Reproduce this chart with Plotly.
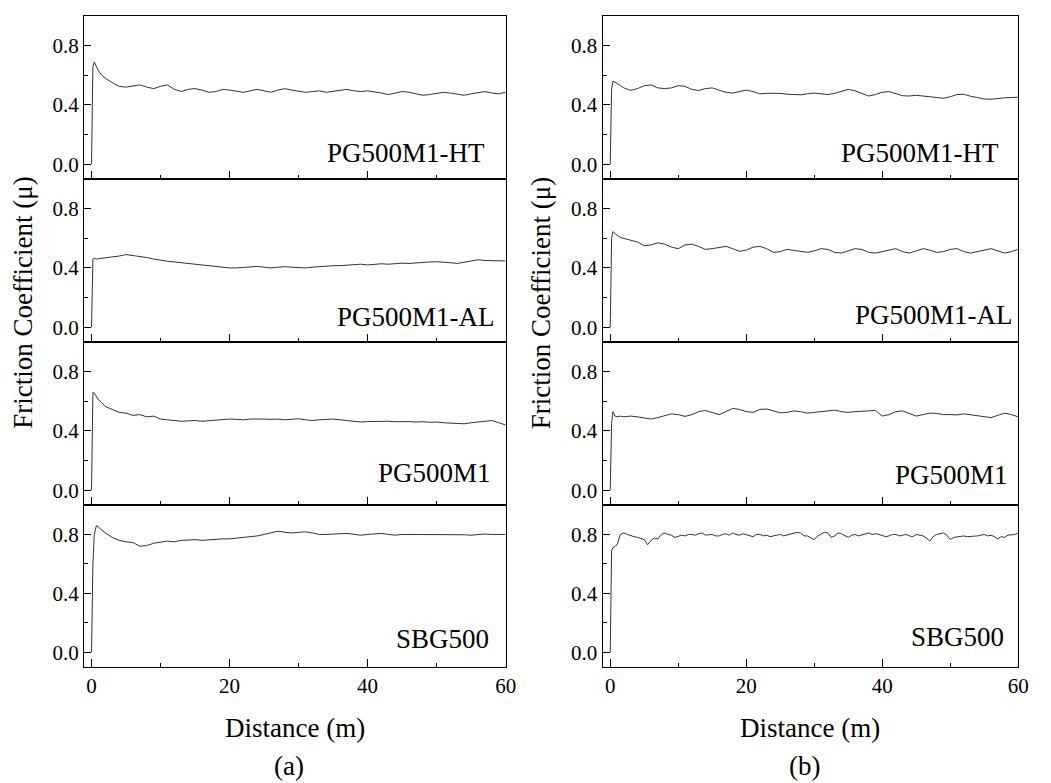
import plotly.graph_objects as go

# ---------------- data ----------------
distance = [0, 0.2, 0.4, 0.7, 1, 1.5, 2] + list(range(3, 61))
distance_fine = [0, 0.2, 0.4, 0.7, 1, 1.5] + [2 + 0.5 * i for i in range(117)]

# (a) column
a_pg500m1_ht = [0, 0.66, 0.69, 0.66, 0.63, 0.60, 0.58,
                0.55, 0.525, 0.52, 0.53, 0.535, 0.52, 0.51, 0.525, 0.535, 0.505,
                0.49, 0.505, 0.51, 0.50, 0.485, 0.49, 0.505, 0.50, 0.49, 0.485,
                0.495, 0.505, 0.495, 0.485, 0.50, 0.51, 0.50, 0.49, 0.485, 0.49,
                0.495, 0.485, 0.49, 0.50, 0.505, 0.495, 0.49, 0.495, 0.49, 0.48,
                0.47, 0.48, 0.49, 0.485, 0.475, 0.465, 0.47, 0.48, 0.485, 0.48,
                0.47, 0.465, 0.475, 0.485, 0.49, 0.48, 0.475, 0.485]
a_pg500m1_al = [0, 0.46, 0.465, 0.46, 0.462, 0.465, 0.465,
                0.47, 0.48, 0.49, 0.485, 0.48, 0.47, 0.46, 0.45, 0.445, 0.44,
                0.435, 0.43, 0.42, 0.415, 0.41, 0.405, 0.405, 0.40, 0.40, 0.403,
                0.405, 0.41, 0.405, 0.40, 0.405, 0.408, 0.405, 0.403, 0.40, 0.405,
                0.41, 0.41, 0.415, 0.415, 0.418, 0.42, 0.425, 0.42, 0.425, 0.428,
                0.425, 0.43, 0.432, 0.43, 0.435, 0.44, 0.44, 0.442, 0.44, 0.435,
                0.43, 0.44, 0.45, 0.455, 0.45, 0.45, 0.445, 0.447]
a_pg500m1 = [0, 0.66, 0.655, 0.63, 0.61, 0.59, 0.565,
             0.545, 0.525, 0.52, 0.505, 0.51, 0.495, 0.50, 0.48, 0.475, 0.47,
             0.465, 0.468, 0.47, 0.465, 0.47, 0.472, 0.475, 0.48, 0.478, 0.475,
             0.48, 0.482, 0.48, 0.478, 0.48, 0.475, 0.48, 0.482, 0.475, 0.47,
             0.475, 0.478, 0.48, 0.475, 0.47, 0.465, 0.46, 0.463, 0.465, 0.468,
             0.465, 0.462, 0.465, 0.463, 0.46, 0.462, 0.458, 0.46, 0.455, 0.452,
             0.45, 0.448, 0.455, 0.46, 0.465, 0.47, 0.455, 0.44]
a_sbg500 = [0, 0.60, 0.80, 0.86, 0.85, 0.83, 0.81,
            0.78, 0.76, 0.75, 0.745, 0.72, 0.725, 0.74, 0.745, 0.755, 0.75,
            0.76, 0.762, 0.765, 0.76, 0.765, 0.768, 0.77, 0.77, 0.775, 0.78,
            0.785, 0.79, 0.80, 0.81, 0.822, 0.815, 0.81, 0.815, 0.818, 0.81,
            0.80, 0.80, 0.80, 0.805, 0.807, 0.80, 0.795, 0.80, 0.803, 0.807,
            0.80, 0.795, 0.80, 0.80, 0.80, 0.802, 0.80, 0.80, 0.80, 0.802,
            0.80, 0.798, 0.795, 0.80, 0.803, 0.80, 0.80, 0.80]

# (b) column
b_pg500m1_ht = [0, 0.51, 0.56, 0.555, 0.545, 0.53, 0.515,
                0.498, 0.51, 0.53, 0.535, 0.515, 0.51, 0.515, 0.53, 0.525, 0.505,
                0.497, 0.51, 0.515, 0.50, 0.485, 0.48, 0.49, 0.50, 0.49, 0.475,
                0.478, 0.48, 0.478, 0.472, 0.47, 0.468, 0.475, 0.48, 0.475, 0.47,
                0.478, 0.49, 0.505, 0.495, 0.475, 0.46, 0.47, 0.485, 0.49, 0.475,
                0.462, 0.46, 0.465, 0.46, 0.455, 0.45, 0.445, 0.455, 0.47, 0.472,
                0.458, 0.45, 0.44, 0.438, 0.445, 0.448, 0.45, 0.452]
b_pg500m1_al = [0, 0.60, 0.645, 0.63, 0.62, 0.605, 0.60,
                0.59, 0.575, 0.55, 0.555, 0.57, 0.56, 0.54, 0.53, 0.555, 0.56,
                0.545, 0.525, 0.53, 0.54, 0.545, 0.53, 0.512, 0.52, 0.54, 0.545,
                0.53, 0.505, 0.51, 0.525, 0.52, 0.51, 0.505, 0.515, 0.53, 0.525,
                0.505, 0.50, 0.515, 0.53, 0.525, 0.505, 0.50, 0.51, 0.525, 0.53,
                0.51, 0.50, 0.515, 0.53, 0.52, 0.505, 0.51, 0.525, 0.53, 0.51,
                0.50, 0.51, 0.525, 0.53, 0.515, 0.50, 0.51, 0.525]
b_pg500m1 = [0, 0.45, 0.53, 0.50, 0.495, 0.50, 0.495,
             0.50, 0.495, 0.485, 0.48, 0.49, 0.505, 0.515, 0.51, 0.498, 0.51,
             0.53, 0.538, 0.525, 0.51, 0.53, 0.552, 0.545, 0.53, 0.525, 0.545,
             0.548, 0.535, 0.522, 0.525, 0.535, 0.53, 0.52, 0.525, 0.53, 0.535,
             0.54, 0.53, 0.525, 0.53, 0.535, 0.535, 0.538, 0.50, 0.51, 0.53,
             0.535, 0.52, 0.50, 0.51, 0.52, 0.518, 0.51, 0.51, 0.508, 0.515,
             0.51, 0.505, 0.50, 0.49, 0.505, 0.52, 0.51, 0.495]
# SBG500 (b) is noisier: read at 0.5 m steps
b_sbg500 = [0, 0.69, 0.71, 0.72, 0.73, 0.80,
            0.81, 0.80, 0.79, 0.785, 0.78, 0.77, 0.765, 0.73,       # 2 - 5.5
            0.76, 0.775, 0.77, 0.80, 0.81, 0.80, 0.795, 0.78,       # 6 - 9.5
            0.785, 0.795, 0.79, 0.80, 0.80, 0.795, 0.805, 0.81,     # 10 - 13.5
            0.795, 0.80, 0.80, 0.79, 0.79, 0.80, 0.805, 0.795,      # 14 - 17.5
            0.81, 0.80, 0.795, 0.805, 0.80, 0.79, 0.785, 0.80,      # 18 - 21.5
            0.80, 0.79, 0.795, 0.785, 0.79, 0.80, 0.80, 0.79,       # 22 - 25.5
            0.795, 0.80, 0.805, 0.815, 0.81, 0.79, 0.79, 0.775,     # 26 - 29.5
            0.765, 0.79, 0.80, 0.815, 0.81, 0.78, 0.79, 0.81,       # 30 - 33.5
            0.805, 0.79, 0.78, 0.795, 0.80, 0.79, 0.795, 0.805,     # 34 - 37.5
            0.81, 0.80, 0.805, 0.80, 0.795, 0.785, 0.79, 0.80,      # 38 - 41.5
            0.80, 0.79, 0.795, 0.80, 0.79, 0.785, 0.80, 0.795,      # 42 - 45.5
            0.79, 0.775, 0.755, 0.785, 0.80, 0.805, 0.81, 0.795,    # 46 - 49.5
            0.765, 0.78, 0.785, 0.79, 0.79, 0.785, 0.785, 0.79,     # 50 - 53.5
            0.79, 0.795, 0.80, 0.79, 0.795, 0.785, 0.77, 0.785,     # 54 - 57.5
            0.78, 0.795, 0.795, 0.80, 0.81]                          # 58 - 60

sample_labels = ["PG500M1-HT", "PG500M1-AL", "PG500M1", "SBG500"]
x_tick_vals = [0, 20, 40, 60]
y_tick_vals = [0.0, 0.4, 0.8]

columns = [
    [a_pg500m1_ht, a_pg500m1_al, a_pg500m1, a_sbg500],
    [b_pg500m1_ht, b_pg500m1_al, b_pg500m1, b_sbg500],
]
column_x = [
    [distance, distance, distance, distance],
    [distance, distance, distance, distance_fine],
]

# ---------------- layout geometry (pixels) ----------------
W, H = 1051, 783
col_px = [(85, 511), (609, 1029)]
x_ranges = [[-1.075, 60], [-1.12, 60]]
row_px = [16, 179, 342, 505, 667]
label_right = [[492, 502, 498, 496], [1012, 1026, 1021, 1017]]
label_capbottom = [[163, 327, 483, 649], [163, 325, 485, 647]]

FONT = "Liberation Serif, Times New Roman, serif"

fig = go.Figure()
layout = dict(
    width=W, height=H,
    margin=dict(l=0, r=0, t=0, b=0),
    paper_bgcolor="white", plot_bgcolor="white",
    showlegend=False,
    font=dict(family=FONT, color="black", size=21),
)
annotations = []

idx = 0
for c in range(2):
    for r in range(4):
        idx += 1
        xa = "x" if idx == 1 else f"x{idx}"
        ya = "y" if idx == 1 else f"y{idx}"
        xkey = "xaxis" if idx == 1 else f"xaxis{idx}"
        ykey = "yaxis" if idx == 1 else f"yaxis{idx}"
        fig.add_trace(go.Scatter(
            x=column_x[c][r], y=columns[c][r], mode="lines",
            line=dict(color="#333333", width=1),
            xaxis=xa, yaxis=ya, hoverinfo="skip"))
        x0, x1 = col_px[c]
        layout[xkey] = dict(
            domain=[x0 / W, x1 / W], anchor=ya, range=x_ranges[c],
            showgrid=False, zeroline=False,
            showline=True, linecolor="black", linewidth=1.3, mirror=True,
            ticks="inside", ticklen=8, tickwidth=1.3, tickcolor="black",
            tickvals=x_tick_vals,
            minor=dict(tickvals=[10, 30, 50], ticks="inside", ticklen=4,
                       tickwidth=1.3, tickcolor="black"),
            showticklabels=(r == 3),
            tickfont=dict(family=FONT, size=21, color="black"),
        )
        layout[ykey] = dict(
            domain=[1 - row_px[r + 1] / H, 1 - row_px[r] / H], anchor=xa,
            range=[-0.1, 1.0],
            showgrid=False, zeroline=False,
            showline=True, linecolor="black", linewidth=1.3, mirror=True,
            ticks="inside", ticklen=7, tickwidth=1.3, tickcolor="black",
            tickvals=y_tick_vals, tickformat=".1f",
            minor=dict(tickvals=[0.2, 0.6], ticks="inside", ticklen=4,
                       tickwidth=1.3, tickcolor="black"),
            tickfont=dict(family=FONT, size=21, color="black"),
        )
        annotations.append(dict(
            text=sample_labels[r], xref="paper", yref="paper",
            x=label_right[c][r] / W, y=1 - (label_capbottom[c][r] - 10) / H,
            xanchor="right", yanchor="middle", showarrow=False,
            font=dict(family=FONT, size=27, color="black")))

# axis titles and panel captions
for c, (cx, cap) in enumerate([(298, "(a)"), (819, "(b)")]):
    annotations.append(dict(text="Distance (m)", xref="paper", yref="paper",
                            x=cx / W, y=1 - 728 / H, xanchor="center", yanchor="middle",
                            showarrow=False, font=dict(family=FONT, size=27, color="black")))
    annotations.append(dict(text=cap, xref="paper", yref="paper",
                            x=(cx - 6) / W, y=1 - 766 / H, xanchor="center", yanchor="middle",
                            showarrow=False, font=dict(family=FONT, size=27, color="black")))
for tx in [23, 547]:
    annotations.append(dict(text="Friction Coefficient (\u03bc)", xref="paper", yref="paper",
                            x=tx / W, y=1 - 303 / H, xanchor="center", yanchor="middle",
                            textangle=-90, showarrow=False,
                            font=dict(family=FONT, size=27, color="black")))

layout["annotations"] = annotations
fig.update_layout(**layout)
fig.write_html("out.html")
